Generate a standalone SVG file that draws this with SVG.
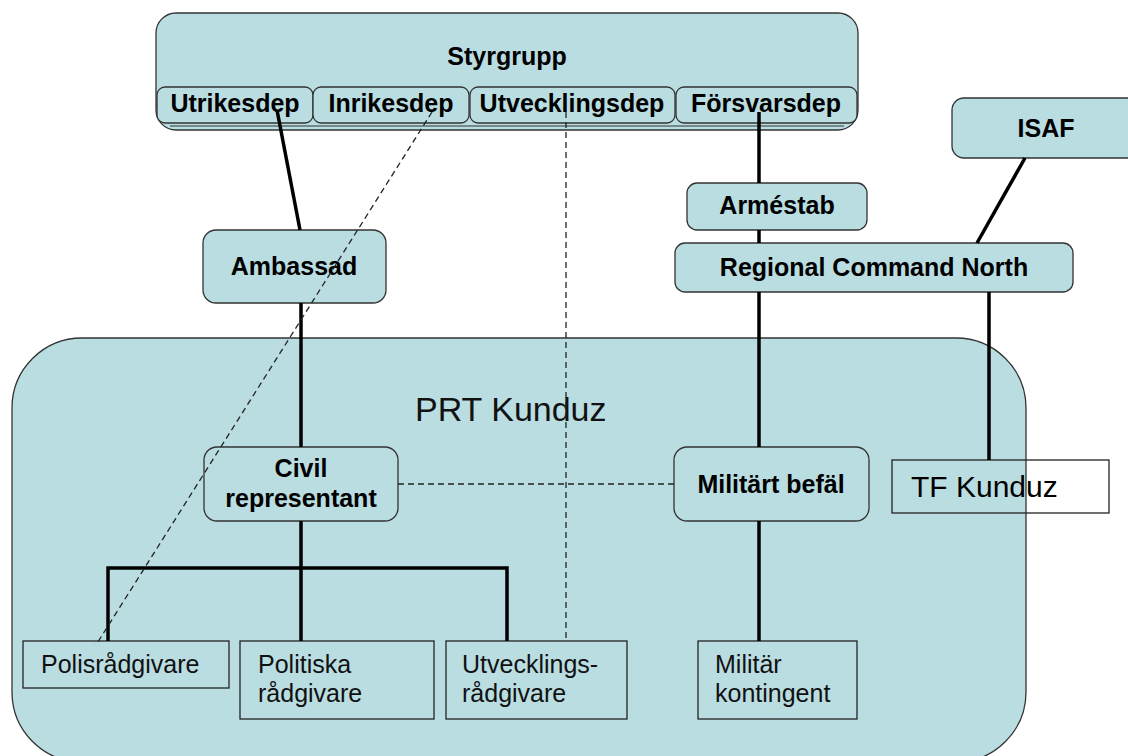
<svg xmlns="http://www.w3.org/2000/svg" width="1128" height="756" viewBox="0 0 1128 756">
<style>
.box{fill:#b9dde1;stroke:#333;stroke-width:1.3}
.plain{fill:none;stroke:#222;stroke-width:1.3}
.b{font-family:"Liberation Sans",Arial,sans-serif;font-weight:bold;font-size:25px;fill:#000;text-anchor:middle}
.n{font-family:"Liberation Sans",Arial,sans-serif;font-size:25px;fill:#111}
.solid{stroke:#000;stroke-width:3.5;fill:none}
.dash{stroke:#222;stroke-width:1.3;fill:none;stroke-dasharray:6 4}
</style>
<rect width="1128" height="756" fill="#fff"/>
<g id="prt">
<rect x="12" y="338" width="1014" height="424" rx="70" class="box"/>
<text x="415" y="421" font-family="Liberation Sans,Arial,sans-serif" font-size="34" fill="#111">PRT Kunduz</text>
</g>
<g id="styrgrupp">
<rect x="156" y="13" width="702" height="117" rx="20" class="box"/>
<line x1="170" y1="126" x2="844" y2="126" stroke="#333" stroke-width="1"/>
<text x="507" y="65" class="b">Styrgrupp</text>
</g>
<g id="utrikesdep"><rect x="157" y="87" width="156" height="36" rx="8" class="box"/><text x="235" y="112" class="b">Utrikesdep</text></g>
<g id="inrikesdep"><rect x="313" y="87" width="156" height="36" rx="8" class="box"/><text x="391" y="112" class="b">Inrikesdep</text></g>
<g id="utvecklingsdep"><rect x="470" y="87" width="205" height="36" rx="8" class="box"/><text x="572" y="112" class="b">Utvecklingsdep</text></g>
<g id="forsvarsdep"><rect x="676" y="87" width="181" height="36" rx="8" class="box"/><text x="766" y="112" class="b">Försvarsdep</text></g>
<g id="isaf"><rect x="952" y="98" width="190" height="60" rx="12" class="box"/><text x="1046" y="137" class="b">ISAF</text></g>
<g id="armestab"><rect x="687" y="183" width="180" height="47" rx="10" class="box"/><text x="777" y="214" class="b">Arméstab</text></g>
<g id="rcn"><rect x="675" y="243" width="398" height="49" rx="10" class="box"/><text x="874" y="276" class="b">Regional Command North</text></g>
<g id="ambassad"><rect x="203" y="230" width="183" height="73" rx="13" class="box"/><text x="294" y="275" class="b">Ambassad</text></g>
<g id="civil"><rect x="204" y="447" width="194" height="74" rx="13" class="box"/><text x="301" y="477" class="b">Civil</text><text x="301" y="507" class="b">representant</text></g>
<g id="militart"><rect x="674" y="447" width="195" height="74" rx="13" class="box"/><text x="771" y="493" class="b">Militärt befäl</text></g>
<g id="tf"><rect x="892" y="460" width="217" height="53" class="plain"/><text x="911" y="497" font-family="Liberation Sans,Arial,sans-serif" font-size="30" fill="#000">TF Kunduz</text></g>
<g id="polis"><rect x="23" y="641" width="206" height="47" class="plain"/><text x="41" y="673" class="n">Polisrådgivare</text></g>
<g id="politiska"><rect x="240" y="641" width="194" height="78" class="plain"/><text x="258" y="673" class="n">Politiska</text><text x="258" y="702" class="n">rådgivare</text></g>
<g id="utvradg"><rect x="446" y="641" width="181" height="78" class="plain"/><text x="462" y="673" class="n">Utvecklings-</text><text x="462" y="702" class="n">rådgivare</text></g>
<g id="milkont"><rect x="698" y="641" width="159" height="78" class="plain"/><text x="715" y="673" class="n">Militär</text><text x="715" y="702" class="n">kontingent</text></g>
<g id="connectors">
<line x1="277" y1="110" x2="300" y2="230" class="solid"/>
<line x1="301" y1="303" x2="301" y2="447" class="solid"/>
<line x1="301" y1="521" x2="301" y2="641" class="solid"/>
<path d="M108,641 V568 H507 V641" class="solid"/>
<line x1="759" y1="112" x2="759" y2="183" class="solid"/>
<line x1="759" y1="230" x2="759" y2="243" class="solid"/>
<line x1="759" y1="292" x2="759" y2="447" class="solid"/>
<line x1="759" y1="521" x2="759" y2="641" class="solid"/>
<line x1="1025" y1="158" x2="977" y2="243" class="solid"/>
<line x1="989" y1="292" x2="989" y2="460" class="solid"/>
<line x1="432" y1="112" x2="96" y2="645" class="dash"/>
<line x1="566" y1="112" x2="566" y2="641" class="dash"/>
<line x1="398" y1="484" x2="674" y2="484" class="dash"/>
</g>
</svg>
